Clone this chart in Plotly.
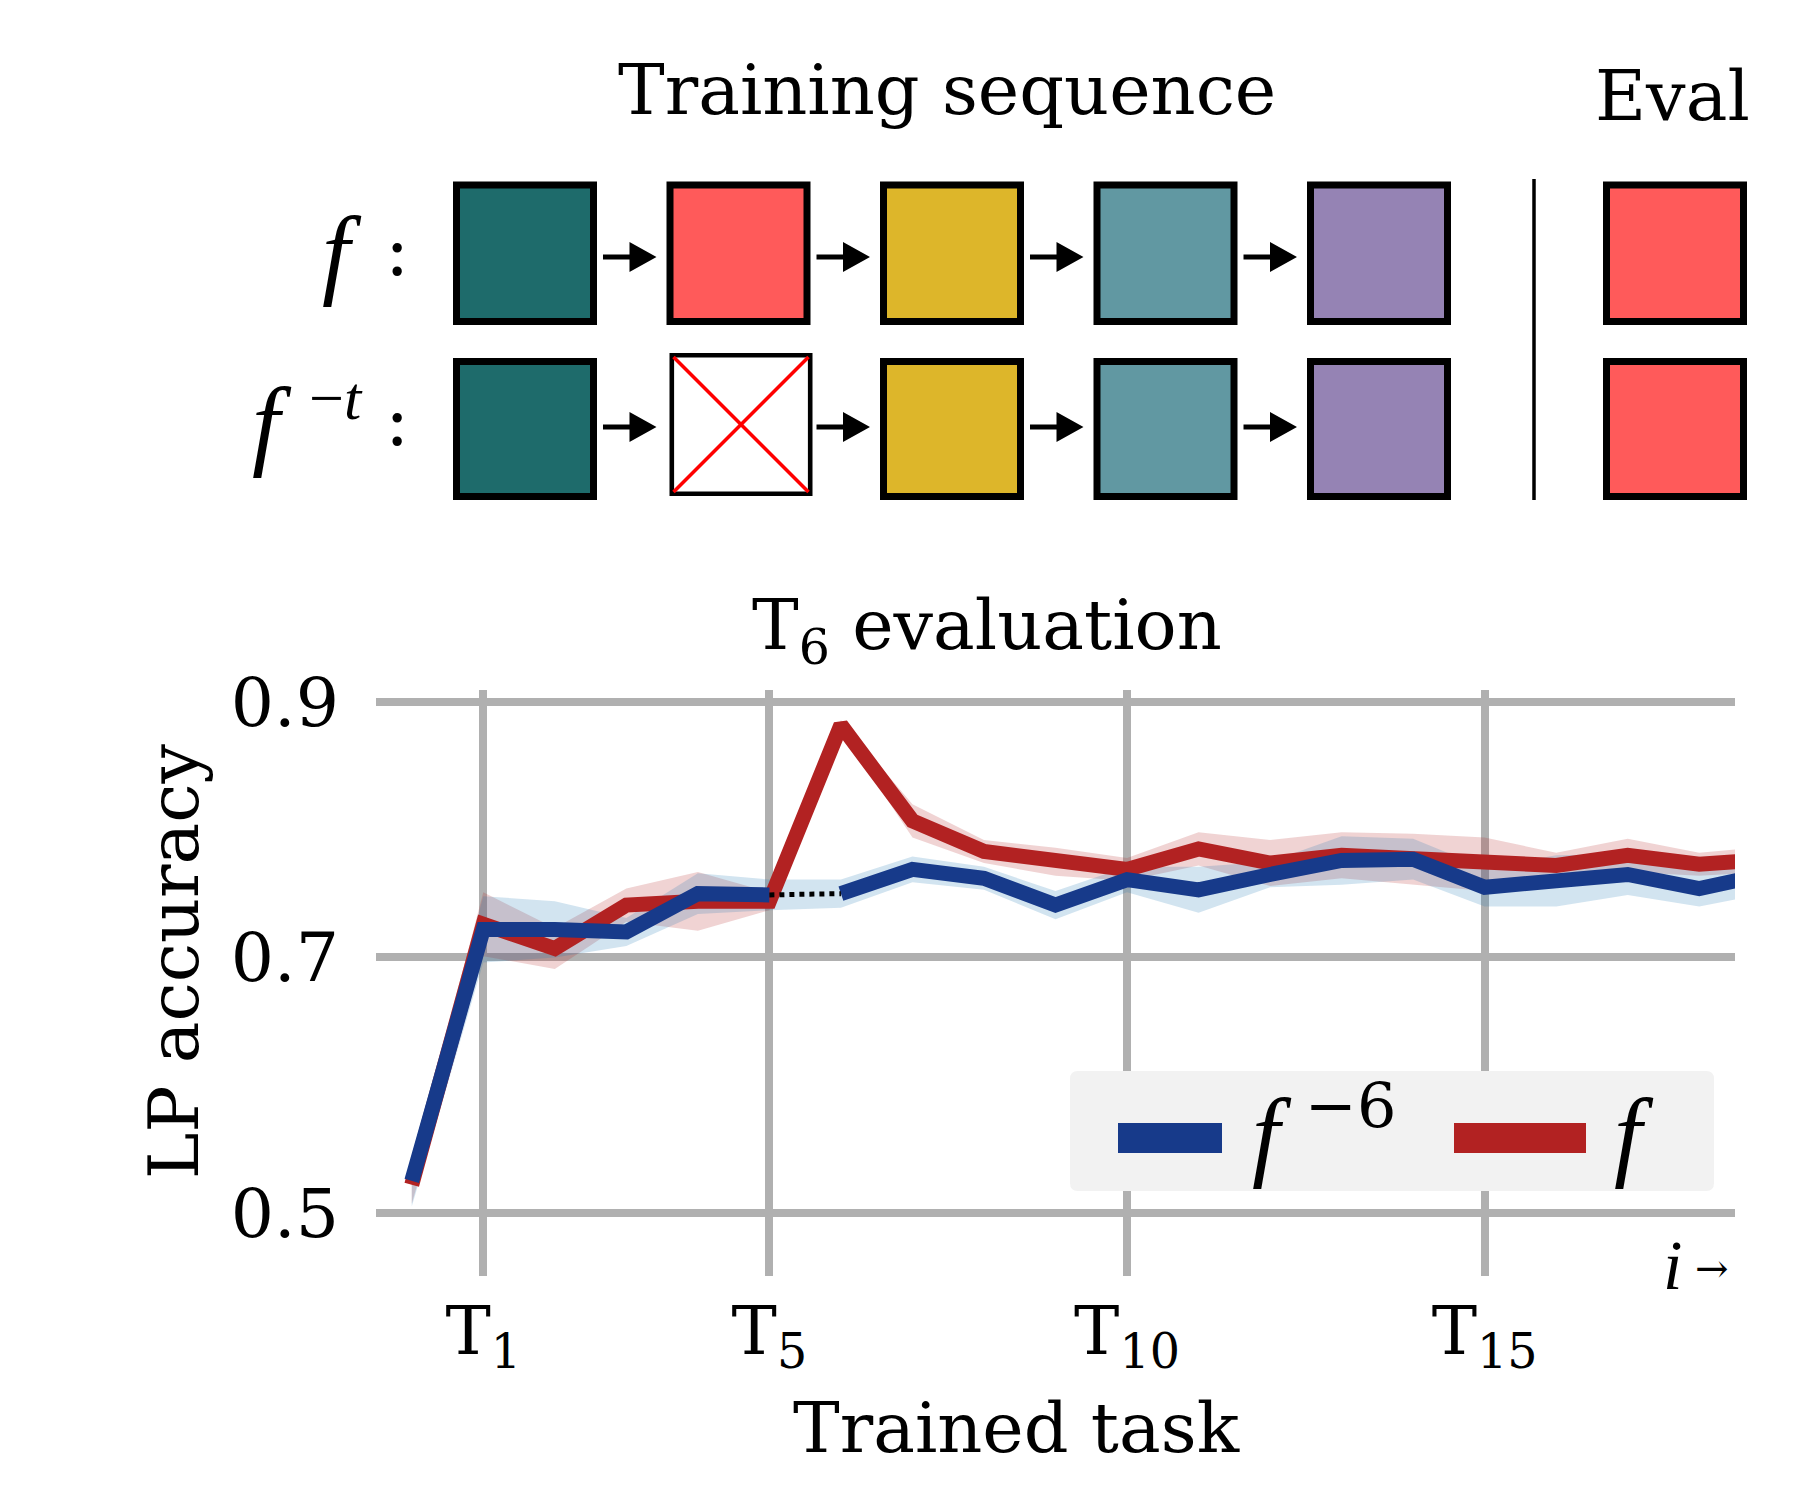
import numpy as np
import plotly.graph_objects as go

# --- data -------------------------------------------------------------
TASKS = list(range(20))  # task index i (T_i), 0 = before training
F_MEAN = [0.522, 0.726, 0.707, 0.741, 0.744, 0.744, 0.882, 0.807, 0.783, 0.775,
          0.769, 0.785, 0.774, 0.780, 0.777, 0.773, 0.772, 0.780, 0.773, 0.777]
F_STD = [0.015, 0.025, 0.016, 0.013, 0.023, 0.007, 0.004, 0.013, 0.009, 0.011,
         0.009, 0.013, 0.018, 0.018, 0.020, 0.021, 0.010, 0.013, 0.009, 0.010]
FM6_MEAN = [0.525, 0.722, 0.722, 0.720, 0.750, 0.749, 0.750, 0.769, 0.762, 0.741,
            0.761, 0.753, 0.765, 0.776, 0.777, 0.755, 0.760, 0.765, 0.754, 0.766]
FM6_STD = [0.020, 0.026, 0.022, 0.011, 0.016, 0.012, 0.011, 0.010, 0.009, 0.011,
           0.010, 0.018, 0.010, 0.019, 0.016, 0.015, 0.020, 0.016, 0.014, 0.015]
SKIPPED = 6  # f^-6 never trains on T6

X_TICKS = [1, 5, 10, 15]
X_TICKTEXT = ["T<sub>1</sub>", "T<sub>5</sub>", "T<sub>10</sub>", "T<sub>15</sub>"]
Y_TICKS = [0.5, 0.7, 0.9]

SEQ_COLORS = ["#1E6B6B", "#FF5A5A", "#DDB62A", "#6198A2", "#9583B4"]
EVAL_COLOR = "#FF5A5A"
BLUE, RED = "#173A8A", "#B22222"
FONT = "DejaVu Serif"
MATH = "Liberation Serif"

# --- pixel helpers (main axes occupies L..R, T..B in page pixels) ----
PAGE = 8  # default body margin of the html page
L, R, T, B = 376, 1735, 690, 1276
W, H = R - L, B - T


def X(p):
    return (p - L) / W


def Y(p):
    return (B - p) / H


fig = go.Figure()


def band(mean, std, color):
    m, s = np.array(mean), np.array(std)
    fig.add_trace(go.Scatter(
        x=TASKS + TASKS[::-1], y=list(m + s) + list((m - s)[::-1]),
        fill="toself", fillcolor=color, line=dict(width=0),
        mode="lines", hoverinfo="skip", showlegend=False))


band(F_MEAN, F_STD, "rgba(178,34,34,0.2)")
band(FM6_MEAN, FM6_STD, "rgba(31,119,180,0.2)")

fig.add_trace(go.Scatter(x=TASKS, y=F_MEAN, mode="lines",
                         line=dict(color=RED, width=15), name="f"))
fig.add_trace(go.Scatter(x=TASKS[:SKIPPED], y=FM6_MEAN[:SKIPPED], mode="lines",
                         line=dict(color=BLUE, width=15), name="f-6"))
fig.add_trace(go.Scatter(x=TASKS[SKIPPED:], y=FM6_MEAN[SKIPPED:], mode="lines",
                         line=dict(color=BLUE, width=15), showlegend=False))
fig.add_trace(go.Scatter(x=TASKS[SKIPPED - 1:SKIPPED + 1],
                         y=FM6_MEAN[SKIPPED - 1:SKIPPED + 1], mode="lines",
                         line=dict(color="black", width=5, dash="dot"),
                         showlegend=False))

shapes = []
ann = []

# --- top diagram: training sequence boxes ----------------------------
BOX, STEP, X0 = 144, 213.5, 453
ROWS = [(181.5, 325), (358, 500)]
BW = 7
for r, (yt, yb) in enumerate(ROWS):
    for i, col in enumerate(SEQ_COLORS):
        xl = X0 + i * STEP
        if r == 1 and i == 1:
            # removed task: white crossed box
            xl2, xr2, yt2, yb2 = xl + 3, xl + 3 + BOX - 1, yt - 5, yb - 4
            shapes.append(dict(type="rect", xref="paper", yref="paper",
                               x0=X(xl2 + 2.3), x1=X(xr2 - 2.3),
                               y0=Y(yt2 + 2.3), y1=Y(yb2 - 2.3),
                               line=dict(color="black", width=4.6),
                               fillcolor="white", layer="above"))
            for (a, b, c, d) in [(xl2 + 4, yt2 + 4, xr2 - 4, yb2 - 4),
                                 (xl2 + 4, yb2 - 4, xr2 - 4, yt2 + 4)]:
                shapes.append(dict(type="line", xref="paper", yref="paper",
                                   x0=X(a), y0=Y(b), x1=X(c), y1=Y(d),
                                   line=dict(color="#FF0000", width=3.5),
                                   layer="above"))
        else:
            shapes.append(dict(type="rect", xref="paper", yref="paper",
                               x0=X(xl + BW / 2), x1=X(xl + BOX - BW / 2),
                               y0=Y(yt + BW / 2), y1=Y(yb - BW / 2),
                               line=dict(color="black", width=BW),
                               fillcolor=col, layer="above"))
        if i < len(SEQ_COLORS) - 1:
            xa = xl + BOX + 6
            xb = X0 + (i + 1) * STEP - 10
            yc = 257 if r == 0 else 427
            pts = [(xa, yc - 2.5), (xb - 27, yc - 2.5), (xb - 27, yc - 15),
                   (xb, yc), (xb - 27, yc + 15), (xb - 27, yc + 2.5),
                   (xa, yc + 2.5)]
            path = "M " + " L ".join(f"{X(a):.5f},{Y(b):.5f}" for a, b in pts) + " Z"
            shapes.append(dict(type="path", xref="paper", yref="paper", path=path,
                               fillcolor="black", line=dict(width=0),
                               layer="above"))
    # eval box
    shapes.append(dict(type="rect", xref="paper", yref="paper",
                       x0=X(1603 + BW / 2), x1=X(1603 + BOX - BW / 2),
                       y0=Y(yt + BW / 2), y1=Y(yb - BW / 2),
                       line=dict(color="black", width=BW),
                       fillcolor=EVAL_COLOR, layer="above"))

shapes.append(dict(type="line", xref="paper", yref="paper",
                   x0=X(1534), x1=X(1534), y0=Y(179), y1=Y(500),
                   line=dict(color="black", width=3.5)))

# --- legend (drawn by hand) ------------------------------------------
lx0, lx1, ly0, ly1, rad = 1070, 1714, 1071, 1191, 8
lpath = (f"M {X(lx0 + rad)},{Y(ly0)} L {X(lx1 - rad)},{Y(ly0)} "
         f"Q {X(lx1)},{Y(ly0)} {X(lx1)},{Y(ly0 + rad)} "
         f"L {X(lx1)},{Y(ly1 - rad)} Q {X(lx1)},{Y(ly1)} {X(lx1 - rad)},{Y(ly1)} "
         f"L {X(lx0 + rad)},{Y(ly1)} Q {X(lx0)},{Y(ly1)} {X(lx0)},{Y(ly1 - rad)} "
         f"L {X(lx0)},{Y(ly0 + rad)} Q {X(lx0)},{Y(ly0)} {X(lx0 + rad)},{Y(ly0)} Z")
shapes.append(dict(type="path", xref="paper", yref="paper", path=lpath,
                   fillcolor="#F2F2F2", line=dict(width=0), layer="above"))
for (a, b, col) in [(1118, 1222, BLUE), (1454, 1586, RED)]:
    shapes.append(dict(type="rect", xref="paper", yref="paper",
                       x0=X(a), x1=X(b), y0=Y(1123), y1=Y(1153),
                       fillcolor=col, line=dict(width=0), layer="above"))


def text(t, x, y, size, xanchor="center", yanchor="middle", angle=0, family=FONT):
    ann.append(dict(text=t, x=X(x), y=Y(y), xref="paper", yref="paper",
                    xanchor=xanchor, yanchor=yanchor, showarrow=False,
                    textangle=angle,
                    font=dict(family=family, size=size, color="black")))


text("Training sequence", 947, 90, 70)
text("Eval", 1672, 96, 70)
# row labels  f :   and   f^{-t} :
text("<i>f</i>", 342, 252, 100, family=MATH)
text(":", 397, 250, 72)
text("<i>f</i>", 272, 423, 100, family=MATH)
text("−<i>t</i>", 336, 398, 62, family=MATH)
text(":", 397, 420, 72)
text("T<sub>6</sub> evaluation", 987, 630, 70)
text("LP accuracy", 174, 962, 70, angle=-90)
text("Trained task", 1016, 1428, 70)
# legend labels
text("<i>f</i>", 1272, 1134, 100, family=MATH)
text("−6", 1350, 1105, 62)
text("<i>f</i>", 1634, 1134, 100, family=MATH)
# "i →" axis hint
text("<i>i</i>", 1672, 1265, 70, family=MATH)
text("→", 1712, 1268, 40)

fig.update_layout(
    width=1800 - PAGE, height=1500 - PAGE,
    margin=dict(l=L - PAGE, r=1800 - R, t=T - PAGE, b=1500 - B),
    plot_bgcolor="white", paper_bgcolor="white",
    showlegend=False,
    font=dict(family=FONT, size=66, color="black"),
    shapes=shapes, annotations=ann,
    xaxis=dict(range=[-0.5, 18.5], tickvals=X_TICKS, ticktext=X_TICKTEXT,
               showgrid=True, gridcolor="#B0B0B0", gridwidth=8,
               zeroline=False, showline=False, ticks="",
               ticklabelstandoff=9, tickfont=dict(size=68)),
    yaxis=dict(range=[0.4505, 0.9095], tickvals=Y_TICKS,
               ticktext=["0.5", "0.7", "0.9"],
               showgrid=True, gridcolor="#B0B0B0", gridwidth=8,
               zeroline=False, showline=False, ticks="",
               ticklabelstandoff=36, tickfont=dict(size=68)),
)

fig.write_html("out.html")
